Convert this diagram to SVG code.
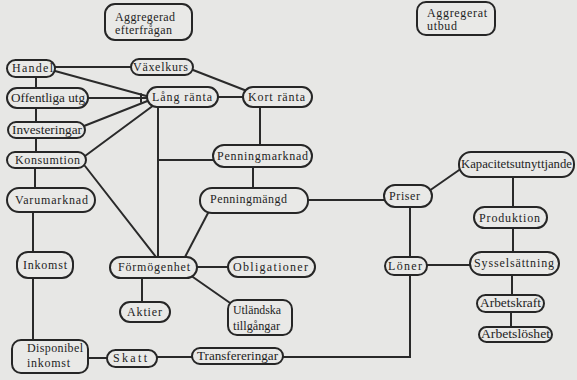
<svg xmlns="http://www.w3.org/2000/svg" width="577" height="380" viewBox="0 0 577 380">
<style>
.bg{fill:#e7e7e5}
.n rect{fill:#e9e9e7;stroke:#262626;stroke-width:2}
.n text{font-family:"Liberation Serif","DejaVu Serif",serif;font-size:12px;fill:#1e1e1e}
.c path{fill:none;stroke:#2a2a2a;stroke-width:2;stroke-linecap:round}
</style>
<rect class="bg" x="0" y="0" width="577" height="380"/>
<g class="c" id="connectors">
<path d="M55,67 H131"/>
<path d="M55,71 L150,97"/>
<path d="M193,70 L247,91"/>
<path d="M218,97 H243"/>
<path d="M88,98 H147"/>
<path d="M141,94 V102"/>
<path d="M36,77 V88"/>
<path d="M36,108 V122"/>
<path d="M84,126 L150,100"/>
<path d="M36,138 V152"/>
<path d="M85,156 L154,105"/>
<path d="M35,168 V188"/>
<path d="M85,166 L156,257"/>
<path d="M158,107 V257"/>
<path d="M158,160 H213"/>
<path d="M260,107 V145"/>
<path d="M253,167 V188"/>
<path d="M208,213 L185,257"/>
<path d="M308,200 H384"/>
<path d="M429,191 L462,168"/>
<path d="M410,207 V257"/>
<path d="M427,265 H470"/>
<path d="M513,177 V207"/>
<path d="M513,228 V252"/>
<path d="M512,275 V295"/>
<path d="M511,312 V327"/>
<path d="M410,275 V357 H283"/>
<path d="M192,357 H157"/>
<path d="M107,358 H88"/>
<path d="M33,278 V340"/>
<path d="M33,212 V252"/>
<path d="M142,278 V302"/>
<path d="M197,267 H228"/>
<path d="M190,275 L233,305"/>
</g>
<g font-family="Liberation Serif, DejaVu Serif, serif">
<g class="n" id="aggregerad_efterfragan"><rect x="105" y="4" width="87" height="36" rx="10"/><text x="115" y="21" textLength="60" lengthAdjust="spacing">Aggregerad</text><text x="115" y="34" textLength="57" lengthAdjust="spacing">efterfrågan</text></g>
<g class="n" id="aggregerat_utbud"><rect x="417" y="2" width="78" height="33" rx="9"/><text x="427" y="17" textLength="60" lengthAdjust="spacing">Aggregerat</text><text x="427" y="30" textLength="30" lengthAdjust="spacing">utbud</text></g>
<g class="n" id="handel"><rect x="7" y="60" width="48" height="17" rx="8.5"/><text x="12" y="72" textLength="41" lengthAdjust="spacing">Handel</text></g>
<g class="n" id="vaxelkurs"><rect x="131" y="59" width="62" height="16" rx="8"/><text x="133" y="71" textLength="55" lengthAdjust="spacing">Växelkurs</text></g>
<g class="n" id="lang_ranta"><rect x="147" y="87" width="71" height="20" rx="10"/><text x="152" y="101" textLength="60" lengthAdjust="spacing">Lång ränta</text></g>
<g class="n" id="kort_ranta"><rect x="243" y="87" width="69" height="20" rx="10"/><text x="248" y="101" textLength="57" lengthAdjust="spacing">Kort ränta</text></g>
<g class="n" id="offentliga_utg"><rect x="7" y="88" width="81" height="20" rx="10"/><text x="11" y="102" textLength="74" lengthAdjust="spacingAndGlyphs">Offentliga utg</text></g>
<g class="n" id="investeringar"><rect x="8" y="122" width="77" height="16" rx="8"/><text x="12" y="134" textLength="70" lengthAdjust="spacingAndGlyphs">Investeringar</text></g>
<g class="n" id="konsumtion"><rect x="7" y="152" width="79" height="16" rx="8"/><text x="15" y="164" textLength="65" lengthAdjust="spacing">Konsumtion</text></g>
<g class="n" id="varumarknad"><rect x="7" y="188" width="88" height="24" rx="12"/><text x="15" y="204" textLength="73" lengthAdjust="spacing">Varumarknad</text></g>
<g class="n" id="inkomst"><rect x="17" y="252" width="56" height="26" rx="11"/><text x="23" y="269" textLength="44" lengthAdjust="spacing">Inkomst</text></g>
<g class="n" id="disponibel_inkomst"><rect x="12" y="340" width="76" height="33" rx="9"/><text x="27" y="352" textLength="56" lengthAdjust="spacing">Disponibel</text><text x="27" y="367" textLength="43" lengthAdjust="spacing">inkomst</text></g>
<g class="n" id="skatt"><rect x="107" y="350" width="50" height="17" rx="8.5"/><text x="113" y="362" textLength="34" lengthAdjust="spacing">Skatt</text></g>
<g class="n" id="transfereringar"><rect x="192" y="348" width="91" height="16" rx="8"/><text x="197" y="360" textLength="81" lengthAdjust="spacingAndGlyphs">Transfereringar</text></g>
<g class="n" id="formogenhet"><rect x="110" y="257" width="87" height="21" rx="10.5"/><text x="118" y="271" textLength="72" lengthAdjust="spacing">Förmögenhet</text></g>
<g class="n" id="aktier"><rect x="120" y="302" width="50" height="20" rx="10"/><text x="127" y="316" textLength="35" lengthAdjust="spacing">Aktier</text></g>
<g class="n" id="obligationer"><rect x="228" y="257" width="87" height="20" rx="10"/><text x="233" y="271" textLength="75" lengthAdjust="spacing">Obligationer</text></g>
<g class="n" id="utlandska_tillgangar"><rect x="228" y="300" width="64" height="35" rx="9"/><text x="233" y="314" textLength="48" lengthAdjust="spacingAndGlyphs">Utländska</text><text x="233" y="330" textLength="47" lengthAdjust="spacingAndGlyphs">tillgångar</text></g>
<g class="n" id="penningmarknad"><rect x="213" y="145" width="99" height="22" rx="11"/><text x="217" y="160" textLength="91" lengthAdjust="spacing">Penningmarknad</text></g>
<g class="n" id="penningmangd"><rect x="200" y="188" width="108" height="25" rx="12"/><text x="210" y="203" textLength="77" lengthAdjust="spacing">Penningmängd</text></g>
<g class="n" id="priser"><rect x="384" y="185" width="48" height="22" rx="11"/><text x="389" y="200" textLength="31" lengthAdjust="spacing">Priser</text></g>
<g class="n" id="kapacitetsutnyttjande"><rect x="459" y="152" width="115" height="25" rx="12"/><text x="461" y="168" textLength="111" lengthAdjust="spacingAndGlyphs">Kapacitetsutnyttjande</text></g>
<g class="n" id="produktion"><rect x="474" y="207" width="73" height="21" rx="10.5"/><text x="479" y="222" textLength="61" lengthAdjust="spacing">Produktion</text></g>
<g class="n" id="loner"><rect x="385" y="257" width="42" height="18" rx="9"/><text x="388" y="270" textLength="34" lengthAdjust="spacing">Löner</text></g>
<g class="n" id="sysselsattning"><rect x="470" y="252" width="89" height="23" rx="11.5"/><text x="474" y="267" textLength="80" lengthAdjust="spacing">Sysselsättning</text></g>
<g class="n" id="arbetskraft"><rect x="477" y="295" width="67" height="17" rx="8.5"/><text x="480" y="307" textLength="61" lengthAdjust="spacingAndGlyphs">Arbetskraft</text></g>
<g class="n" id="arbetsloshet"><rect x="479" y="327" width="73" height="15" rx="7.5"/><text x="481" y="338" textLength="69" lengthAdjust="spacingAndGlyphs">Arbetslöshet</text></g>
</g>
</svg>
